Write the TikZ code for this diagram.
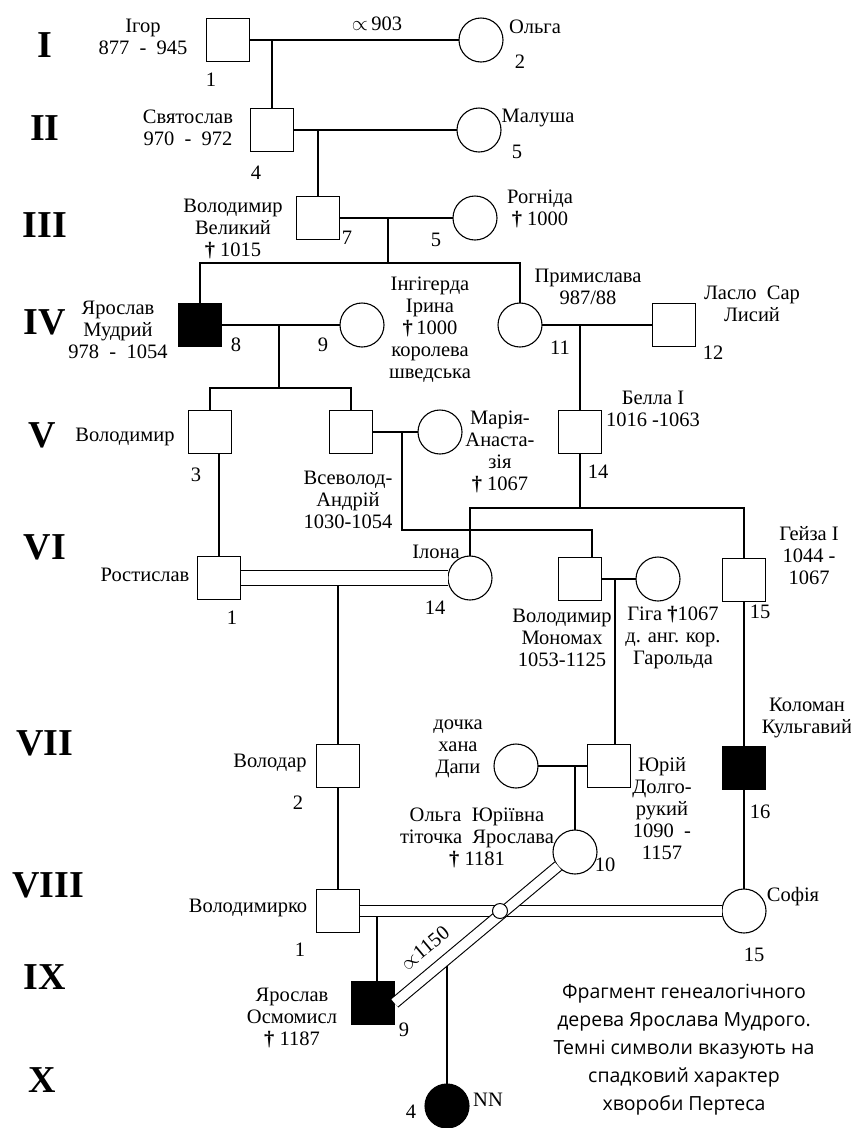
\documentclass[tikz,border=0pt]{standalone}
\usepackage{fontspec}
\setmainfont{Liberation Serif}
\newfontfamily\capfont{Open Sans}
\begin{document}
\begin{tikzpicture}[x=1pt,y=-1pt,
  line width=1.1pt,
  male/.style={draw, rectangle, minimum width=43pt, minimum height=43pt, inner sep=0pt, outer sep=0pt},
  female/.style={draw, circle, minimum size=44pt, inner sep=0pt, outer sep=0pt},
  aff/.style={fill=black},
  txt/.style={align=center, inner sep=0pt, font=\fontsize{20.5}{22}\selectfont},
  gen/.style={inner sep=0pt, font=\bfseries\fontsize{38}{38}\selectfont},
  dbl/.style={double, double distance=#1},
  capt/.style={align=center, inner sep=0pt, font=\capfont\fontsize{19.5}{28}\selectfont},
  xing/.style={draw, circle, fill=white, minimum size=15pt, inner sep=0pt, line width=1pt}
]
\useasboundingbox (0,0) rectangle (851,1128);

% generation numerals
\node[gen] (g1) at (45,45) {I};
\node[gen] (g2) at (45,128) {II};
\node[gen] (g3) at (45,225) {III};
\node[gen] (g4) at (45,322) {IV};
\node[gen] (g5) at (42,435) {V};
\node[gen] (g6) at (45,547) {VI};
\node[gen] (g7) at (45,743) {VII};
\node[gen] (g8) at (48,885) {VIII};
\node[gen] (g9) at (45,977) {IX};
\node[gen] (g10) at (42,1080) {X};

% persons
\node[male] (igor) at (228,40) {};
\node[female] (olga) at (481,40) {};
\node[male] (svyat) at (272,130) {};
\node[female] (malusha) at (479,130) {};
\node[male] (volvel) at (318,218) {};
\node[female] (rogn) at (475,218) {};
\node[male,aff] (yaroslav) at (200,325) {};
\node[female] (ingi) at (362,325) {};
\node[female] (prymy) at (520,325) {};
\node[male] (laslo) at (674,325) {};
\node[male] (volv) at (210,432) {};
\node[male] (vsev) at (351,432) {};
\node[female] (maria) at (440,432) {};
\node[male] (bella) at (580,432) {};
\node[male] (rost) at (219,578) {};
\node[female] (ilona) at (470,578) {};
\node[male] (monom) at (580,579) {};
\node[female] (gita) at (658,579) {};
\node[male] (geyza) at (744,580) {};
\node[male] (volodar) at (338,766) {};
\node[female] (dapy) at (516,766) {};
\node[male] (yuriy) at (609,766) {};
\node[male,aff] (kolo) at (744,768) {};
\node[female] (olgayu) at (575,852) {};
\node[male] (vko) at (338,911) {};
\node[female] (sofia) at (744,911) {};
\node[male,aff] (yarosm) at (373,1003) {};
\node[female,aff] (nn) at (447,1106) {};

% helper coordinates
\coordinate (c1) at (272,40);
\coordinate (c2) at (318,130);
\coordinate (c3) at (388,218);
\coordinate (s3) at (388,263);
\coordinate (c4) at (279,325);
\coordinate (s4) at (279,388);
\coordinate (c5) at (580,325);
\coordinate (c6) at (402,432);
\coordinate (k6) at (592,530);
\coordinate (s7) at (580,508);
\coordinate (c9) at (338,585.5);
\coordinate (c10) at (615,579);
\coordinate (c12) at (575,766);
\coordinate (c15) at (377,917);
\coordinate (c18) at (447,966);

% connectors
\draw (igor.east) -- (olga.west);
\draw (c1) -- (svyat.north);
\draw (svyat.east) -- (malusha.west);
\draw (c2) -- (volvel.north);
\draw (volvel.east) -- (rogn.west);
\draw (c3) -- (s3);
\draw (yaroslav.north) |- (s3) -| (prymy.north);
\draw (yaroslav.east) -- (ingi.west);
\draw (c4) -- (s4);
\draw (volv.north) |- (s4) -| (vsev.north);
\draw (prymy.east) -- (laslo.west);
\draw (c5) -- (bella.north);
\draw (vsev.east) -- (maria.west);
\draw (c6) |- (k6) -- (k6 |- monom.north);
\draw (bella.south) -- (s7);
\draw (ilona.north) |- (s7) -| (geyza.north);
\draw (rost.north) -- (rost.north |- volv.south);
\draw[dbl=13.5pt] (rost.east) -- (ilona.west);
\draw (c9) -- (volodar.north);
\draw (monom.east) -- (gita.west);
\draw (c10) -- (c10 |- yuriy.north);
\draw (geyza.south) -- (kolo.north);
\draw (dapy.east) -- (yuriy.west);
\draw (c12) -- (olgayu.north);
\draw (volodar.south) -- (vko.north);
\draw (kolo.south) -- (sofia.north);
\draw[dbl=10.5pt] (vko.east) -- (sofia.west);
\draw (c15) -- (c15 |- yarosm.north);
\draw[dbl=9.5pt] (yarosm.east) -- (olgayu);
\node[xing] (cross) at (500,911) {};
\draw (c18) -- (nn.north);

% labels
\node[txt] (t1) at (143,37) {Ігор\\877 ~-~ 945};
\node[txt] (t2) at (211,80) {1};
\node[txt] (t3) at (377,24) {$\propto$\,903};
\node[txt] (t4) at (535,27) {Ольга};
\node[txt] (t5) at (520,62) {2};
\node[txt] (t6) at (188,128) {Святослав\\970 ~-~ 972};
\node[txt] (t7) at (256,173) {4};
\node[txt] (t8) at (538,118) {Малуша};
\node[txt] (t9) at (517,152) {5};
\node[txt] (t10) at (233,229) {Володимир\\Великий\\{\bfseries †} 1015};
\node[txt] (t11) at (347,238) {7};
\node[txt] (t12) at (540,209) {Рогніда\\{\bfseries †} 1000};
\node[txt] (t13) at (436,240) {5};
\node[txt] (t14) at (118,330) {Ярослав\\Мудрий\\978 ~-~ 1054};
\node[txt] (t15) at (236,345) {8};
\node[txt] (t16) at (323,345) {9};
\node[txt] (t17) at (430,330) {Інгігерда\\Ірина\\{\bfseries †}\,1000\\королева\\шведська};
\node[txt] (t18) at (588,287) {Примислава\\987/88};
\node[txt] (t19) at (560,348) {11};
\node[txt] (t20) at (752,304) {Ласло~~Сар\\Лисий};
\node[txt] (t21) at (713,353) {12};
\node[txt] (t22) at (125,437) {Володимир};
\node[txt] (t23) at (196,475) {3};
\node[txt] (t24) at (348,500) {Всеволод-\\Андрій\\1030-1054};
\node[txt] (t25) at (500,452) {Марія-\\Анаста-\\зія\\{\bfseries †} 1067};
\node[txt] (t26) at (653,409) {Белла I\\1016 -1063};
\node[txt] (t27) at (598,472) {14};
\node[txt] (t28) at (145,575) {Ростислав};
\node[txt] (t29) at (232,618) {1};
\node[txt] (t30) at (436,552) {Ілона};
\node[txt] (t31) at (435,608) {14};
\node[txt] (t32) at (562,638) {Володимир\\Мономах\\1053-1125};
\node[txt] (t33) at (673,638) {Гіга {\bfseries †}1067\\д. анг. кор.\\Гарольда};
\node[txt] (t34) at (809,556) {Гейза I\\1044 -\\1067};
\node[txt] (t35) at (760,612) {15};
\node[txt] (t36) at (270,763) {Володар};
\node[txt] (t37) at (298,803) {2};
\node[txt] (t38) at (458,749) {дочка\\хана\\Дапи};
\node[txt] (t39) at (662,809) {Юрій\\Долго-\\рукий\\1090 ~-\\1157};
\node[txt] (t40) at (807,718) {Коломан\\Кульгавий};
\node[txt] (t41) at (760,812) {16};
\node[txt] (t42) at (477,838) {Ольга~~Юріївна\\тіточка~~Ярослава\\{\bfseries †} 1181};
\node[txt] (t43) at (605,865) {10};
\node[txt] (t44) at (248,908) {Володимирко};
\node[txt] (t45) at (300,950) {1};
\node[txt] (t46) at (793,897) {Софія};
\node[txt] (t47) at (754,955) {15};
\node[txt, rotate=40] (t48) at (425,948) {$\propto$1150};
\node[txt] (t49) at (292,1018) {Ярослав\\Осмомисл\\{\bfseries †} 1187};
\node[txt] (t50) at (404,1030) {9};
\node[txt] (t51) at (488,1100) {NN};
\node[txt] (t52) at (411,1112) {4};
\node[capt] (caption) at (684,1050) {Фрагмент генеалогічного\\дерева Ярослава Мудрого.\\Темні символи вказують на\\спадковий характер\\хвороби Пертеса};
\end{tikzpicture}
\end{document}
